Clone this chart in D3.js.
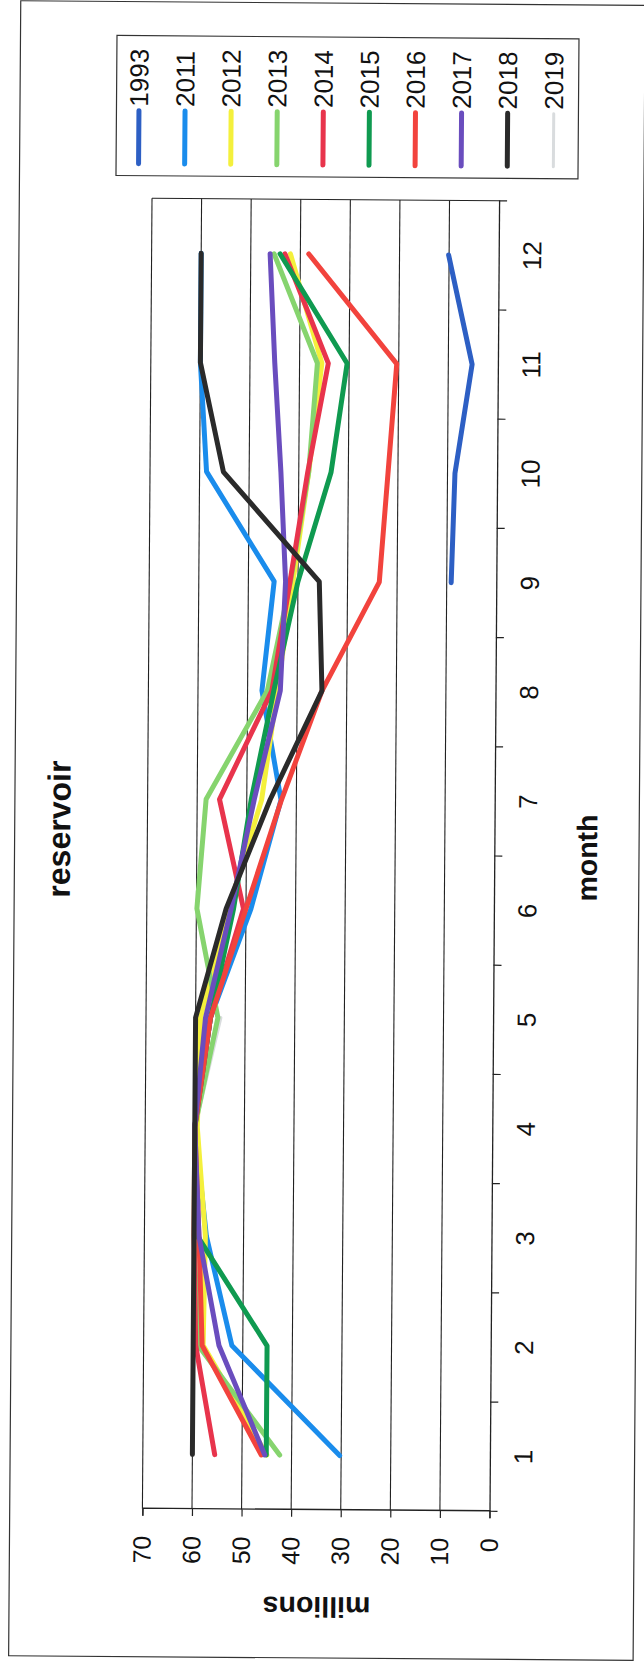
<!DOCTYPE html>
<html><head><meta charset="utf-8">
<script src="https://cdn.jsdelivr.net/npm/d3@7"></script>
<style>
html,body{margin:0;padding:0;background:#fff;}
svg{display:block;}
text{font-family:"Liberation Sans",Arial,sans-serif;fill:#111;}
</style></head>
<body>
<script>
// ---- data ----
const months = [1,2,3,4,5,6,7,8,9,10,11,12];
const yTicks = [0,10,20,30,40,50,60,70];
const seriesNames = ["1993","2011","2012","2013","2014","2015","2016","2017","2018","2019"];
const seriesColors = ["#2d5fc4","#1a8cec","#f4f03c","#86d46e","#e8344c","#0f9a50","#f2433d","#6a4dbe","#2a2a2a","#d9dcde"];
const v1993 = [null,null,null,null,null,null,null,null,9.1,8.5,5.2,10.1];
const v2011 = [30.3,52.2,57.5,60,57,49,43.1,47.1,44.8,58.6,60,60];
const v2012 = [45,58,57.7,59.5,59,53.5,47,44,41,38,35.5,42];
const v2013 = [42.4,59,60,60,55.5,59.9,58.2,46,41.5,38,36.4,45.3];
const v2014 = [55.5,59.5,60,60,57,50.5,55.5,45.1,41.6,38.2,34.2,43.1];
const v2015 = [45.1,45.1,59.3,60,57,52.5,49.1,44.7,40,33.5,30.4,44.1];
const v2016 = [46.1,58.2,59,60,57,50,43,35,23.6,22,20.4,38.3];
const v2017 = [45.4,54.8,59,60,58,53,48.5,43.4,42.5,43.6,45,46.1];
const v2018 = [60,60,60,60,60,54,45.3,35,35.7,55.2,60,60];
const v2019 = [60,60,60,60,55,null,null,null,null,null,null,null];
const seriesValues = [v1993,v2011,v2012,v2013,v2014,v2015,v2016,v2017,v2018,v2019];
const drawOrder = [9,0,1,2,3,4,5,6,7,8];

// ---- layout ----
const W = 644, H = 1665;
const font = '"Liberation Sans",Arial,sans-serif';
const svg = d3.select("body").append("svg").attr("width", W).attr("height", H);
svg.append("rect").attr("width", W).attr("height", H).attr("fill", "#fff");

// slight scan skew, then the chart drawn landscape and turned a quarter left
const skew = svg.append("g").attr("transform", "rotate(0.42,322,855)");
const g = skew.append("g").attr("transform", `translate(0,${H}) rotate(-90)`);

// outer chart border
g.append("rect").attr("x", 7).attr("y", 14.5).attr("width", 1655).attr("height", 624.5)
  .attr("fill", "none").attr("stroke", "#333").attr("stroke-width", 1.2);

const x = d3.scaleBand().domain(months).range([155, 1465.5]).padding(0);
const y = d3.scaleLinear().domain([0, 70]).range([494.3, 147.2]);
const cx = m => x(m) + x.bandwidth() / 2;

// gridlines
g.append("g").selectAll("line").data(yTicks.filter(t => t > 0)).join("line")
  .attr("x1", x.range()[0]).attr("x2", x.range()[1])
  .attr("y1", d => y(d)).attr("y2", d => y(d))
  .attr("stroke", "#222").attr("stroke-width", 1.1);
// plot right edge
g.append("line").attr("x1", x.range()[1]).attr("x2", x.range()[1])
  .attr("y1", y(70)).attr("y2", y(0)).attr("stroke", "#222").attr("stroke-width", 1.1);

// value axis
const ya = g.append("g").attr("transform", `translate(${x.range()[0]},0)`)
  .call(d3.axisLeft(y).tickValues(yTicks).tickSize(7).tickPadding(20));
ya.select(".domain").attr("stroke", "#222").attr("stroke-width", 1.3);
ya.selectAll(".tick line").attr("stroke", "#222").attr("stroke-width", 1.2);
ya.selectAll("text").attr("font-size", 25).attr("font-family", font).attr("fill", "#111");

// month axis
const xa = g.append("g").attr("transform", `translate(0,${y(0)})`)
  .call(d3.axisBottom(x).tickSize(0).tickPadding(24));
xa.select(".domain").attr("stroke", "#222").attr("stroke-width", 1.3);
xa.selectAll("text").attr("font-size", 26).attr("font-family", font).attr("fill", "#111");
const bounds = months.map(m => x(m)).concat([x.range()[1]]);
g.append("g").selectAll("line").data(bounds).join("line")
  .attr("x1", d => d).attr("x2", d => d).attr("y1", y(0)).attr("y2", y(0) + 8)
  .attr("stroke", "#222").attr("stroke-width", 1.2);

// series lines
const line = d3.line().defined(d => d != null)
  .x((d, i) => cx(months[i])).y(d => y(d));
g.append("g").selectAll("path").data(drawOrder).join("path")
  .attr("d", i => line(seriesValues[i]))
  .attr("fill", "none").attr("stroke", i => seriesColors[i])
  .attr("stroke-width", i => i === 9 ? 4 : 5)
  .attr("stroke-linejoin", "round").attr("stroke-linecap", "round");

// titles
g.append("text").attr("x", 834).attr("y", 70).attr("text-anchor", "middle")
  .attr("font-size", 32).attr("font-weight", "bold").attr("font-family", font).text("reservoir");
g.append("text").attr("x", 809).attr("y", 597).attr("text-anchor", "middle")
  .attr("font-size", 28.5).attr("font-weight", "bold").attr("font-family", font).text("month");
g.append("text").attr("transform", "translate(68,322) rotate(-90)").attr("text-anchor", "middle")
  .attr("font-size", 28.5).attr("font-weight", "bold").attr("font-family", font).text("millions");

// legend
const lg = g.append("g");
lg.append("rect").attr("x", 1488).attr("y", 111).attr("width", 140).attr("height", 462)
  .attr("fill", "#fff").attr("stroke", "#333").attr("stroke-width", 1.2);
const ly = d3.scalePoint().domain(seriesNames).range([133.5, 548.3]);
const items = lg.selectAll("g.item").data(seriesNames).join("g").attr("class", "item")
  .attr("transform", d => `translate(0,${ly(d)})`);
items.append("line").attr("x1", 1500).attr("x2", 1553).attr("y1", 0).attr("y2", 0)
  .attr("stroke", (d, i) => seriesColors[i]).attr("stroke-width", (d, i) => i === 9 ? 3 : 5)
  .attr("stroke-linecap", "round");
items.append("text").attr("x", 1557).attr("y", 0).attr("dy", "0.35em")
  .attr("font-size", 26).attr("font-family", font).text(d => d);
</script>
</body></html>
